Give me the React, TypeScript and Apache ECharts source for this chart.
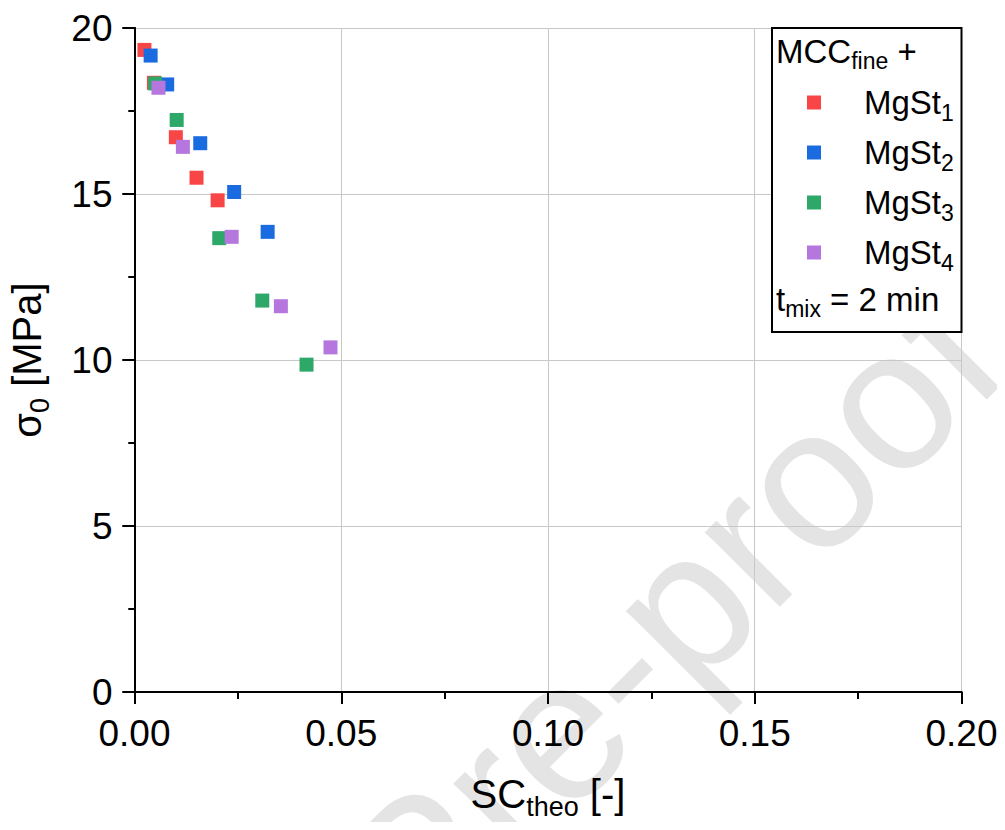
import React, { useEffect, useRef } from "react";
import * as echarts from "echarts";

const seriesNames = ["MgSt1", "MgSt2", "MgSt3", "MgSt4"];
const seriesSubs = ["1", "2", "3", "4"];
const seriesColors = ["#F84646", "#1A6BE0", "#2EA868", "#B577DD"];

const mgst1: number[][] = [
  [0.0024, 19.34],
  [0.0047, 18.35],
  [0.01, 16.71],
  [0.015, 15.49],
  [0.0201, 14.81],
];
const mgst2: number[][] = [
  [0.0039, 19.17],
  [0.0079, 18.3],
  [0.0159, 16.53],
  [0.0241, 15.06],
  [0.0322, 13.86],
];
const mgst3: number[][] = [
  [0.005, 18.33],
  [0.0102, 17.23],
  [0.0205, 13.67],
  [0.0309, 11.79],
  [0.0416, 9.86],
];
const mgst4: number[][] = [
  [0.0058, 18.2],
  [0.0117, 16.42],
  [0.0235, 13.71],
  [0.0354, 11.62],
  [0.0474, 10.38],
];
const allData = [mgst1, mgst2, mgst3, mgst4];

const xMin = 0;
const xMax = 0.2;
const xInterval = 0.05;
const yMin = 0;
const yMax = 20;
const yInterval = 5;

const FONT = "Liberation Sans, Arial, sans-serif";

export default function App() {
  const ref = useRef<HTMLDivElement>(null);
  useEffect(() => {
    if (!ref.current) return;
    const chart = echarts.init(ref.current, null, { renderer: "svg" });

    const legendRich = {
      a: { fontSize: 33, fontFamily: FONT, color: "#000", lineHeight: 16, padding: [10, 0, 10, 0] },
      s: { fontSize: 23, fontFamily: FONT, color: "#000", lineHeight: 16, padding: [20, 0, 0, 0] },
    };
    const titleRich = {
      a: { fontSize: 40, fontFamily: FONT, color: "#000", lineHeight: 16, padding: [13, 0, 13, 0] },
      s: { fontSize: 27, fontFamily: FONT, color: "#000", lineHeight: 16, padding: [26, 0, 0, 0] },
    };

    const axisLine = { show: true, lineStyle: { color: "#000", width: 2 } };

    const option: any = {
      animation: false,
      backgroundColor: "#fff",
      grid: {
        left: 134.5,
        right: 43.5,
        top: 28,
        bottom: 138,
        containLabel: false,
        outerBoundsMode: "none",
      },
      xAxis: [
        {
          type: "value",
          position: "bottom",
          min: xMin,
          max: xMax,
          interval: xInterval,
          axisLine,
          axisTick: { show: true, inside: false, length: 12, lineStyle: { color: "#000", width: 2 } },
          minorTick: { show: true, splitNumber: 2, length: 7, lineStyle: { color: "#000", width: 2 } },
          splitLine: { show: true, lineStyle: { color: "#c8c8c8", width: 1 } },
          axisLabel: {
            show: true,
            fontSize: 37,
            fontFamily: FONT,
            color: "#000",
            margin: 23,
            formatter: (v: number) => v.toFixed(2),
          },
          name: "{a|SC}{s|theo}{a| [-]}",
          nameLocation: "middle",
          nameGap: 94,
          nameTextStyle: { rich: titleRich },
        },
        {
          type: "value",
          position: "top",
          min: xMin,
          max: xMax,
          interval: xInterval,
          axisLine,
          axisTick: { show: true, inside: true, length: 12, lineStyle: { color: "#000", width: 2 } },
          minorTick: { show: true, splitNumber: 2, length: 6, lineStyle: { color: "#000", width: 2 } },
          splitLine: { show: false },
          axisLabel: { show: false },
        },
      ],
      yAxis: [
        {
          type: "value",
          position: "left",
          min: yMin,
          max: yMax,
          interval: yInterval,
          axisLine,
          axisTick: { show: true, inside: false, length: 12, lineStyle: { color: "#000", width: 2 } },
          minorTick: { show: true, splitNumber: 2, length: 6, lineStyle: { color: "#000", width: 2 } },
          splitLine: { show: true, lineStyle: { color: "#c8c8c8", width: 1 } },
          axisLabel: { show: true, fontSize: 37, fontFamily: FONT, color: "#000", margin: 22 },
          name: "{a|σ}{s|0}{a| [MPa]}",
          nameLocation: "middle",
          nameRotate: 90,
          nameGap: 81,
          nameTextStyle: { rich: titleRich },
        },
        {
          type: "value",
          position: "right",
          min: yMin,
          max: yMax,
          interval: yInterval,
          axisLine,
          axisTick: { show: true, inside: true, length: 12, lineStyle: { color: "#000", width: 2 } },
          minorTick: { show: true, splitNumber: 2, length: 6, lineStyle: { color: "#000", width: 2 } },
          splitLine: { show: false },
          axisLabel: { show: false },
        },
      ],
      legend: {
        show: true,
        orient: "vertical",
        left: 807,
        top: 76,
        padding: 0,
        itemGap: -3,
        itemWidth: 14,
        itemHeight: 14,
        icon: "rect",
        z: 6,
        data: seriesNames,
        formatter: (name: string) => {
          const i = seriesNames.indexOf(name);
          return "{a|MgSt}{s|" + seriesSubs[i] + "}";
        },
        textStyle: { padding: [0, 0, 0, 38], rich: legendRich },
      },
      graphic: [
        {
          type: "text",
          z: -10,
          x: -128,
          y: 1416,
          rotation: Math.PI / 4,
          silent: true,
          style: {
            text: "Journal Pre-proof",
            fontSize: 200,
            fontFamily: FONT,
            fill: "#e4e4e4",
            textAlign: "left",
            textVerticalAlign: "middle",
            align: "left",
            verticalAlign: "middle",
          },
        },
        {
          type: "rect",
          z: 5,
          shape: { x: 772, y: 28, width: 189.5, height: 304 },
          style: { fill: "#fff", stroke: "#000", lineWidth: 2 },
        },
        {
          type: "text",
          z: 7,
          x: 776,
          y: 51,
          style: {
            text: "{a|MCC}{s|fine}{a| +}",
            rich: legendRich,
            textAlign: "left",
            textVerticalAlign: "middle",
            align: "left",
            verticalAlign: "middle",
          },
        },
        {
          type: "text",
          z: 7,
          x: 776,
          y: 299,
          style: {
            text: "{a|t}{s|mix}{a| = 2 min}",
            rich: legendRich,
            textAlign: "left",
            textVerticalAlign: "middle",
            align: "left",
            verticalAlign: "middle",
          },
        },
      ],
      series: seriesNames.map((n, i) => ({
        name: n,
        type: "scatter",
        xAxisIndex: 0,
        yAxisIndex: 0,
        symbol: "rect",
        symbolSize: 14,
        itemStyle: { color: seriesColors[i], opacity: 1 },
        data: allData[i],
        z: 2 + i,
      })),
    };
    chart.setOption(option);
    return () => chart.dispose();
  }, []);
  return <div ref={ref} style={{ width: 1005, height: 830, margin: -8 }} />;
}
